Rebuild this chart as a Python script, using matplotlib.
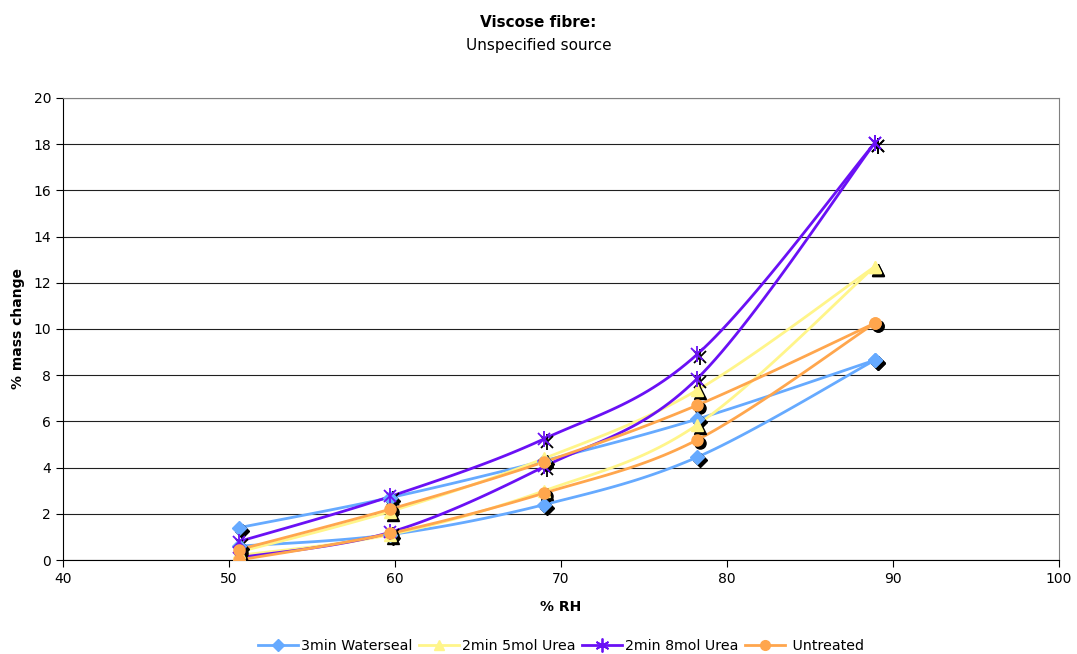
import numpy as np
import matplotlib.pyplot as plt
import matplotlib.transforms as mtransforms

# Relative humidity steps (adsorption up, desorption back down)
rh_up = [50.6, 59.7, 69.0, 78.2, 88.9]
rh_down = [88.9, 78.2, 69.0, 59.7, 50.6]

# % mass change for each treatment
waterseal_up = [0.6, 1.1, 2.4, 4.45, 8.65]
waterseal_down = [8.65, 6.1, 4.3, 2.7, 1.4]
urea5_up = [0.2, 1.1, 3.0, 5.85, 12.7]
urea5_down = [12.7, 7.35, 4.4, 2.1, 0.35]
urea8_up = [0.1, 1.2, 4.05, 7.85, 18.05]
urea8_down = [18.05, 8.9, 5.25, 2.75, 0.8]
untreated_up = [0.0, 1.15, 2.9, 5.2, 10.25]
untreated_down = [10.25, 6.7, 4.25, 2.2, 0.45]

labels = ['3min Waterseal', '2min 5mol Urea', '2min 8mol Urea', ' Untreated']
colors = ['#66AAFF', '#FFF58A', '#6A10F5', '#FFA64D']
markers = ['D', '^', '*', 'o']


def smooth(x, y, n=30):
    # Excel-like smoothed line (Catmull-Rom as Bezier segments)
    p = np.column_stack([x, y]).astype(float)
    p = np.vstack([p[0], p, p[-1]])
    out = []
    t = np.linspace(0, 1, n)[:, None]
    for i in range(1, len(p) - 2):
        b0 = p[i]
        b1 = p[i] + (p[i + 1] - p[i - 1]) / 6
        b2 = p[i + 1] - (p[i + 2] - p[i]) / 6
        b3 = p[i + 1]
        seg = ((1 - t) ** 3 * b0 + 3 * (1 - t) ** 2 * t * b1
               + 3 * (1 - t) * t ** 2 * b2 + t ** 3 * b3)
        out.append(seg)
    s = np.vstack(out)
    return s[:, 0], s[:, 1]


fig = plt.figure(figsize=(10.77, 6.54), dpi=100)
ax = fig.add_axes([0.0585, 0.1437, 0.9248, 0.7065])
shadow = mtransforms.offset_copy(ax.transData, fig=fig, x=3, y=-3, units='dots')

series = [
    (waterseal_up, waterseal_down),
    (urea5_up, urea5_down),
    (urea8_up, urea8_down),
    (untreated_up, untreated_down),
]

for (up, down), lab, c, m in zip(series, labels, colors, markers):
    ms = 9 if m == '*' else (7 if m == 'D' else 8)
    for xs, ys in [(rh_up, up), (rh_down, down)]:
        sx, sy = smooth(xs, ys)
        ax.plot(sx, sy, color=c, lw=2, zorder=3)
    for xs, ys in [(rh_up, up), (rh_down, down)]:
        if m == '*':
            ax.plot(xs, ys, ls='none', marker='x', ms=8, mec='black', mew=1.3,
                    transform=shadow, zorder=4)
            ax.plot(xs, ys, ls='none', marker='|', ms=11, mec='black', mew=1.3,
                    transform=shadow, zorder=4)
            ax.plot(xs, ys, ls='none', marker='x', ms=8, mec=c, mew=1.3, zorder=5)
            ax.plot(xs, ys, ls='none', marker='|', ms=11, mec=c, mew=1.3, zorder=5)
        else:
            ax.plot(xs, ys, ls='none', marker=m, ms=ms, mfc='black', mec='black',
                    transform=shadow, zorder=4)
            ax.plot(xs, ys, ls='none', marker=m, ms=ms, mfc=c, mec=c, zorder=5)
    # legend proxy
    if m == '*':
        ax.plot([], [], color=c, lw=2, marker=(6, 2, 0), ms=10, mec=c, mew=1.3, label=lab)
    else:
        ax.plot([], [], color=c, lw=2, marker=m, ms=ms - 1, mfc=c, mec=c, label=lab)

ax.set_xlim(40, 100)
ax.set_ylim(0, 20)
ax.set_xticks(np.arange(40, 101, 10))
ax.set_yticks(np.arange(0, 21, 2))
ax.yaxis.grid(True, color='#202020', lw=0.8)
ax.set_axisbelow(True)
for side in ['top', 'right']:
    ax.spines[side].set_color('#808080')
for side in ['left', 'bottom']:
    ax.spines[side].set_color('black')
ax.tick_params(direction='out', length=5, labelsize=10, colors='black')

ax.set_xlabel('% RH', fontsize=10, fontweight='bold', labelpad=10)
ax.set_ylabel('% mass change', fontsize=10, fontweight='bold', labelpad=6)

fig.text(0.5, 0.966, 'Viscose fibre:', ha='center', va='center',
         fontsize=11, fontweight='bold')
fig.text(0.5, 0.931, 'Unspecified source', ha='center', va='center', fontsize=11)

fig.legend(loc='lower center', bbox_to_anchor=(0.521, -0.018), ncol=4, frameon=False,
           fontsize=10.2, handlelength=2.8, handletextpad=0.2, columnspacing=0.5)

fig.savefig('out.png', dpi=100)
